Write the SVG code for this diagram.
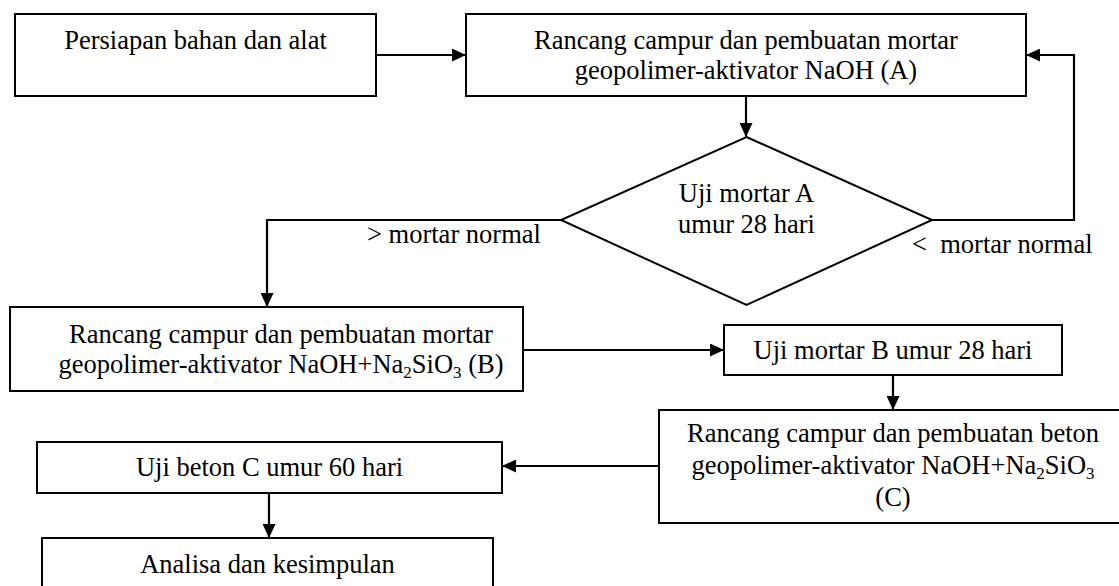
<svg xmlns="http://www.w3.org/2000/svg" width="1119" height="586" viewBox="0 0 1119 586">
<style>
.box{fill:#fff;stroke:#000;stroke-width:2}
.t{font-family:"Liberation Serif","Times New Roman",serif;font-size:26.5px;fill:#000;text-anchor:middle}
.l{font-family:"Liberation Serif","Times New Roman",serif;font-size:26.5px;fill:#000}
.c{fill:none;stroke:#000;stroke-width:2.2}
</style>
<defs>
<marker id="ah" markerUnits="userSpaceOnUse" markerWidth="14" markerHeight="13" refX="14" refY="6.5" orient="auto">
<path d="M0,0 L14,6.5 L0,13 z" fill="#000"/>
</marker>
</defs>
<rect width="1119" height="586" fill="#fff"/>
<g id="connectors">
<path class="c" d="M376,55 L466,55" marker-end="url(#ah)"/>
<path class="c" d="M746,96 L746,137" marker-end="url(#ah)"/>
<path class="c" d="M932,220 L1074,220 L1074,55 L1026,55" marker-end="url(#ah)"/>
<path class="c" d="M561,220 L267,220 L267,307" marker-end="url(#ah)"/>
<path class="c" d="M523,350 L724,350" marker-end="url(#ah)"/>
<path class="c" d="M893,375 L893,410" marker-end="url(#ah)"/>
<path class="c" d="M659,466 L502,466" marker-end="url(#ah)"/>
<path class="c" d="M269,493 L269,538" marker-end="url(#ah)"/>
</g>
<g id="labels">
<text class="l" x="367" y="243">&gt; mortar normal</text>
<text class="l" x="912" y="253" xml:space="preserve">&lt;  mortar normal</text>
</g>
<g id="n1">
<rect class="box" x="15" y="14" width="361" height="82"/>
<text class="t" x="195.5" y="49">Persiapan bahan dan alat</text>
</g>
<g id="n2">
<rect class="box" x="466" y="14" width="560" height="82"/>
<text class="t" x="746" y="49">Rancang campur dan pembuatan mortar</text>
<text class="t" x="746" y="79">geopolimer-aktivator NaOH (A)</text>
</g>
<g id="n3">
<polygon class="box" points="746.5,137 932,220 746.5,305 561,220"/>
<text class="t" x="746.5" y="202">Uji mortar A</text>
<text class="t" x="746.5" y="233">umur 28 hari</text>
</g>
<g id="n4">
<rect class="box" x="10" y="307" width="513" height="84"/>
<text class="t" x="281" y="343">Rancang campur dan pembuatan mortar</text>
<text class="t" x="281" y="373">geopolimer-aktivator NaOH+Na<tspan font-size="17" dy="5">2</tspan><tspan dy="-5">SiO</tspan><tspan font-size="17" dy="5">3</tspan><tspan dy="-5"> (B)</tspan></text>
</g>
<g id="n5">
<rect class="box" x="724" y="325" width="338" height="50"/>
<text class="t" x="893" y="359">Uji mortar B umur 28 hari</text>
</g>
<g id="n6">
<rect class="box" x="659" y="410" width="470" height="113"/>
<text class="t" x="893" y="442">Rancang campur dan pembuatan beton</text>
<text class="t" x="893" y="474">geopolimer-aktivator NaOH+Na<tspan font-size="17" dy="5">2</tspan><tspan dy="-5">SiO</tspan><tspan font-size="17" dy="5">3</tspan></text>
<text class="t" x="893" y="506">(C)</text>
</g>
<g id="n7">
<rect class="box" x="37" y="442" width="465" height="51"/>
<text class="t" x="269.5" y="476">Uji beton C umur 60 hari</text>
</g>
<g id="n8">
<rect class="box" x="42" y="538" width="451" height="60"/>
<text class="t" x="267.5" y="573">Analisa dan kesimpulan</text>
</g>
</svg>
